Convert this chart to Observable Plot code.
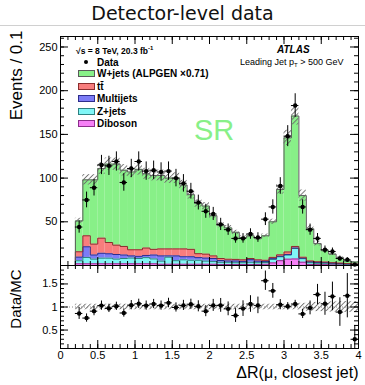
<!DOCTYPE html>
<html>
<head>
<meta charset="utf-8">
<script src="https://cdn.jsdelivr.net/npm/d3@7"></script>
<script src="https://cdn.jsdelivr.net/npm/@observablehq/plot@0.6"></script>
<style>
html,body{margin:0;padding:0;background:#fff;}
#wrap{position:relative;width:365px;height:385px;overflow:hidden;font-family:"Liberation Sans",Arial,Helvetica,sans-serif;color:#000;}
#title{position:absolute;left:0;top:0;width:365px;height:25px;border-bottom:1px solid #d0d0d0;text-align:center;font-family:"DejaVu Sans",sans-serif;font-size:19px;line-height:27px;color:#111;}
#mainp{position:absolute;left:0;top:0;}
#ratiop{position:absolute;left:0;top:265px;}
.t{position:absolute;white-space:nowrap;}
.leg{font-weight:bold;font-size:10px;line-height:11px;}
.box{position:absolute;width:15px;height:5px;border:1px solid #444;}
</style>
</head>
<body>
<svg width="0" height="0" style="position:absolute">
 <defs>
  <pattern id="hatch" patternUnits="userSpaceOnUse" width="3.5" height="3.5" patternTransform="rotate(45)">
   <line x1="0.5" y1="0" x2="0.5" y2="3.5" stroke="#6a6a6a" stroke-width="0.9"/>
  </pattern>
 </defs>
</svg>
<div id="wrap">
  <div id="mainp"></div>
  <div id="ratiop"></div>
  <div id="title">Detector-level data</div>
  <div id="overlay"></div>
</div>
<script>
// ---------- data ----------
const binLow = [0.2,0.3,0.4,0.5,0.6,0.7,0.8,0.9,1.0,1.1,1.2,1.3,1.4,1.5,1.6,1.7,1.8,1.9,2.0,2.1,2.2,2.3,2.4,2.5,2.6,2.7,2.8,2.9,3.0,3.1,3.2,3.3,3.4,3.5,3.6,3.7,3.8,3.9];
const binWidth = 0.1;
const dataEvents = [44,75,89,115,114,119,95,111,119,108,109,107,108,100,94,85,72,62,59,47,41,31,31,36,32,53,67,91,148,183,67,41,31,18,16,8,6.5,1.2];
const dataErr = [7,9,9.5,11,11,11,10,10.5,11,10.5,10.5,10.5,10.5,10,10,9,8.5,8,7.5,7,6.5,5.5,5.5,6,5.5,7.3,8.2,9.5,12,13.5,8.2,6.4,5.6,4.3,4,2.8,2.5,1.2];
const wjets = [35.3,64,73.5,79.7,89.7,92.7,87.2,89,92,85,84.5,84,81,81,73,62.5,57.5,55,46,38,35.8,31,25.5,26,24.5,28,40.7,74.8,130.5,149.2,70.5,36.8,20.7,13,9.8,6.2,3.1,2.3];
const ttbar = [6.1,12.6,12.5,17.3,12.9,10.7,9.8,7,7.5,8.5,6.5,8,8,8,9,8.5,4.5,4.5,3,2.3,2,1.8,1.8,1.3,1.5,1.5,1.5,1.7,3,1.8,1.2,1,0.8,0.7,0.6,0.5,0.4,0.3];
const multijet = [4.2,12.2,4.7,5.6,5,5.3,4,2.5,2.5,2.5,4.5,6,1.5,5.5,3.5,4,3,3.5,3.5,2,1.5,2,1.5,3,1.8,1,0.8,0.5,0.5,0.5,0.5,1,1,0.8,0.6,0.5,0.4,0.3];
const zjets = [3.4,7.2,5.3,6.4,6.4,5.3,6,6.5,6,7,5.5,3.5,8,4,5,4.5,4.5,3.5,3,2.5,2.5,2,2,2.5,2,2,4,4.5,4.7,12,4,2,1.5,1.5,1.2,1,0.8,0.6];
const diboson = [2,2,2,2,2,2,2,2,2,2,2,1.5,1.5,1.5,1.5,1.5,1.5,1.5,1.5,1.2,1.2,1.2,1.2,1.2,1.2,1.5,3,5.5,7.3,7.5,3.8,1.2,1,1,0.8,0.8,0.6,0.5];
const relUnc = [0.06,0.06,0.06,0.06,0.06,0.06,0.06,0.06,0.06,0.06,0.06,0.06,0.06,0.06,0.06,0.06,0.06,0.06,0.06,0.06,0.06,0.06,0.06,0.06,0.06,0.06,0.06,0.06,0.06,0.06,0.08,0.09,0.1,0.1,0.11,0.12,0.12,0.12];
const ratio = [0.86,0.76,0.91,1.03,0.97,1.015,0.87,1.04,1.07,1.03,1.065,1.03,1.09,0.99,1.035,1.06,1.015,0.91,1.035,1.035,0.96,0.815,0.965,1.065,1.035,1.57,1.35,1.05,1.015,1.065,0.85,0.98,1.27,1.07,1.23,0.89,1.245,0.30];
const ratioErr = [0.13,0.09,0.1,0.1,0.09,0.09,0.09,0.1,0.1,0.1,0.1,0.1,0.1,0.1,0.11,0.11,0.12,0.12,0.13,0.15,0.15,0.15,0.17,0.18,0.18,0.21,0.16,0.11,0.08,0.08,0.1,0.15,0.22,0.25,0.31,0.31,0.48,0.3];

const processNames = ["W+jets (ALPGEN \u00d70.71)", "t\u0074\u0304", "Multijets", "Z+jets", "Diboson"];
const processFill = ["#88f088", "#f87d7d", "#7c7cf6", "#80f6f6", "#f680f6"];
const processLine = ["#5a5a5a", "#8b2d2d", "#2d2d8b", "#2d8080", "#8b2d8b"];
const processValues = [wjets, ttbar, multijet, zjets, diboson];
const stackBottomUp = [4, 3, 2, 1, 0];

const xTickLabels = [0, 0.5, 1, 1.5, 2, 2.5, 3, 3.5, 4];
const mainYTickLabels = [50, 100, 150, 200, 250];
const ratioYTickLabels = [0.5, 1, 1.5];

// ---------- derived tables ----------
const bins = binLow.map((lo, i) => {
  const mc = processValues.reduce((s, arr) => s + arr[i], 0);
  return {lo, hi: lo + binWidth, c: lo + binWidth / 2, n: dataEvents[i], e: dataErr[i],
          mc, u: relUnc[i], r: ratio[i], re: ratioErr[i]};
});
const rects = [];
const outline = [];
const cum = binLow.map(() => 0);
stackBottomUp.forEach(k => {
  binLow.forEach((lo, i) => {
    const y1 = cum[i], y2 = cum[i] + processValues[k][i];
    rects.push({x1: lo, x2: lo + binWidth, y1, y2, fill: processFill[k]});
    cum[i] = y2;
  });
  outline.push({k, x: binLow[0], y: 0, stroke: processLine[k]});
  binLow.forEach((lo, i) => outline.push({k, x: lo, y: cum[i], stroke: processLine[k]}));
  const last = binLow.length - 1;
  outline.push({k, x: binLow[last] + binWidth, y: cum[last], stroke: processLine[k]});
  outline.push({k, x: binLow[last] + binWidth, y: 0, stroke: processLine[k]});
});

const xMajor = d3.range(0, 4.0001, 0.5);
const xMinor = d3.range(0, 4.0001, 0.1);
const mainYMajor = d3.range(0, 251, 50);
const mainYMinor = d3.range(0, 262, 10);
const ratioYMajor = [0.5, 1, 1.5];
const ratioYMinor = d3.range(0.1, 1.901, 0.1);

const W = 365, ML = 60, MR = 7;
const PW = W - ML - MR;
const font = "'Liberation Sans', Arial, Helvetica, sans-serif";

function frameTicks(H, yMaj, yMin, xMaj, xMin, top, bottom) {
  const m = [];
  const tk = {stroke: "#000", strokeWidth: 1};
  m.push(Plot.tickY(yMaj, {y: d => d, insetRight: PW - 8, ...tk}));
  m.push(Plot.tickY(yMin, {y: d => d, insetRight: PW - 4, ...tk}));
  m.push(Plot.tickY(yMaj, {y: d => d, insetLeft: PW - 8, ...tk}));
  m.push(Plot.tickY(yMin, {y: d => d, insetLeft: PW - 4, ...tk}));
  if (top) {
    m.push(Plot.tickX(xMaj, {x: d => d, insetBottom: H - 8, ...tk}));
    m.push(Plot.tickX(xMin, {x: d => d, insetBottom: H - 4, ...tk}));
  }
  if (bottom) {
    m.push(Plot.tickX(xMaj, {x: d => d, insetTop: H - 8, ...tk}));
    m.push(Plot.tickX(xMin, {x: d => d, insetTop: H - 4, ...tk}));
  }
  return m;
}

// ---------- main panel ----------
const mainTop = 36, mainH = 266, mainBottomMargin = 1;
const mainPH = mainH - mainTop - mainBottomMargin;
const main = Plot.plot({
  width: W, height: mainH,
  marginLeft: ML, marginRight: MR, marginTop: mainTop, marginBottom: mainBottomMargin,
  style: {background: "transparent", fontFamily: font, overflow: "visible"},
  x: {domain: [0, 4], axis: null},
  y: {domain: [0, 262]},
  color: {type: "identity"},
  marks: [
    Plot.rect(rects, {x1: "x1", x2: "x2", y1: "y1", y2: "y2", fill: "fill"}),
    Plot.line(outline, {x: "x", y: "y", z: "k", stroke: "stroke", curve: "step-after", strokeWidth: 1}),
    Plot.rect(bins, {x1: "lo", x2: "hi", y1: d => d.mc * (1 - d.u), y2: d => d.mc * (1 + d.u), fill: "url(#hatch)"}),
    Plot.ruleX(bins, {x: "c", y1: d => d.n - d.e, y2: d => d.n + d.e, stroke: "#000", strokeWidth: 1}),
    Plot.ruleY(bins, {y: "n", x1: "lo", x2: "hi", stroke: "#000", strokeWidth: 1}),
    Plot.dot(bins, {x: "c", y: "n", r: 2.2, fill: "#000", stroke: "none"}),
    Plot.frame({stroke: "#000", strokeWidth: 1}),
    ...frameTicks(mainPH, mainYMajor, mainYMinor, xMajor, xMinor, true, true),
    Plot.axisY(mainYTickLabels, {anchor: "left", tickSize: 0, tickPadding: 3, fontSize: 11, label: null, tickFormat: d => String(d)}),
    Plot.text(["Events / 0.1"], {text: d => d, frameAnchor: "top-left", rotate: -90, textAnchor: "end", lineAnchor: "middle", dx: -44, dy: -6, fontSize: 17})
  ]
});
document.getElementById("mainp").appendChild(main);

// ---------- ratio panel ----------
const ratioH = 120, ratioBottom = 37;
const ratioPH = ratioH - ratioBottom;
const ratioPlot = Plot.plot({
  width: W, height: ratioH,
  marginLeft: ML, marginRight: MR, marginTop: 0, marginBottom: ratioBottom,
  style: {background: "transparent", fontFamily: font, overflow: "visible"},
  x: {domain: [0, 4]},
  y: {domain: [0.1, 1.9]},
  color: {type: "identity"},
  marks: [
    Plot.rect(bins, {x1: "lo", x2: "hi", y1: d => 1 - d.u, y2: d => 1 + d.u, fill: "url(#hatch)"}),
    Plot.ruleY([1], {stroke: "#888", strokeDasharray: "1,2", strokeWidth: 1}),
    Plot.ruleX(bins, {x: "c", y1: d => d.r - d.re, y2: d => d.r + d.re, stroke: "#000", strokeWidth: 1, clip: true}),
    Plot.ruleY(bins, {y: "r", x1: "lo", x2: "hi", stroke: "#000", strokeWidth: 1, clip: true}),
    Plot.dot(bins, {x: "c", y: "r", r: 2.2, fill: "#000", stroke: "none", clip: true}),
    Plot.frame({stroke: "#000", strokeWidth: 1}),
    ...frameTicks(ratioPH, ratioYMajor, ratioYMinor, xMajor, xMinor, true, true),
    Plot.axisY(ratioYTickLabels, {anchor: "left", tickSize: 0, tickPadding: 3, fontSize: 11, label: null, tickFormat: d => String(d)}),
    Plot.axisX(xTickLabels, {anchor: "bottom", tickSize: 0, tickPadding: 3, fontSize: 11, label: null, tickFormat: d => String(d)}),
    Plot.text(["Data/MC"], {text: d => d, frameAnchor: "top-left", rotate: -90, textAnchor: "end", lineAnchor: "middle", dx: -44, dy: 4, fontSize: 15}),
    Plot.text(["\u0394R(\u03bc, closest jet)"], {text: d => d, frameAnchor: "bottom-right", textAnchor: "end", lineAnchor: "bottom", dy: 29, fontSize: 16})
  ]
});
document.getElementById("ratiop").appendChild(ratioPlot);

// ---------- legend & labels ----------
const ov = document.getElementById("overlay");
function addText(html, left, top, cls, style) {
  const d = document.createElement("div");
  d.className = "t " + (cls || "");
  d.style.left = left + "px"; d.style.top = top + "px";
  if (style) Object.assign(d.style, style);
  d.innerHTML = html;
  ov.appendChild(d);
  return d;
}
addText("\u221as = 8 TeV, 20.3 fb<sup style='font-size:6px;vertical-align:4px'>-1</sup>", 76, 42.5, "leg", {fontSize: "8.5px", lineHeight: "10px"});
const dot = document.createElement("div");
Object.assign(dot.style, {position: "absolute", left: "84px", top: "60px", width: "4.4px", height: "4.4px", borderRadius: "50%", background: "#000"});
ov.appendChild(dot);
addText("Data", 97, 56.5, "leg");
const rowY = [73.5, 86, 98.5, 111, 123.5];
processNames.forEach((name, k) => {
  const b = document.createElement("div");
  b.className = "box";
  Object.assign(b.style, {left: "78px", top: (rowY[k] - 3.5) + "px", background: processFill[k], borderColor: processLine[k]});
  ov.appendChild(b);
  addText(name, 97, rowY[k] - 5.5, "leg");
});
addText("ATLAS", 277, 44, "", {fontWeight: "bold", fontStyle: "italic", fontSize: "10px", lineHeight: "11px"});
addText("Leading Jet p<sub style='font-size:6px;vertical-align:-2px'>T</sub> &gt; 500 GeV", 240, 56.5, "", {fontSize: "9px", lineHeight: "10px"});
addText("SR", 194, 115.5, "", {fontSize: "29px", lineHeight: "29px", color: "#88f088"});
</script>
</body>
</html>
